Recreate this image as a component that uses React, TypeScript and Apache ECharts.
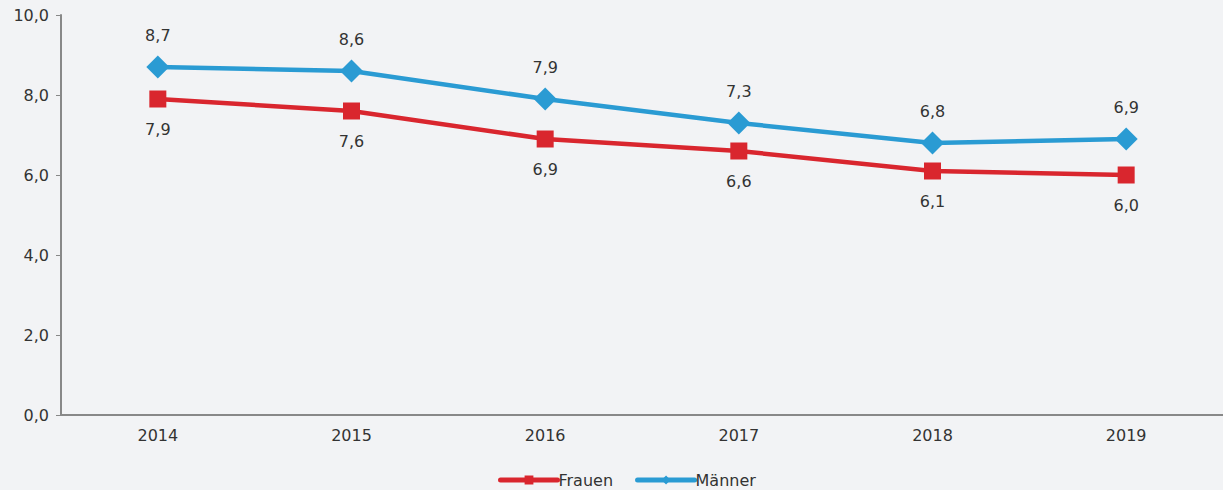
import React, { useEffect, useRef } from "react";
import * as echarts from "echarts";

const years = ["2014", "2015", "2016", "2017", "2018", "2019"];
const frauen = [7.9, 7.6, 6.9, 6.6, 6.1, 6.0];
const maenner = [8.7, 8.6, 7.9, 7.3, 6.8, 6.9];

const fmt = (v: number) => v.toFixed(1).replace(".", ",");

export default function App() {
  const ref = useRef<HTMLDivElement>(null);
  useEffect(() => {
    const chart = echarts.init(ref.current!, null, { renderer: "svg" });
    const font = "DejaVu Sans, Verdana, sans-serif";
    chart.setOption({
      animation: false,
      backgroundColor: "#f2f3f5",
      textStyle: { fontFamily: font },
      grid: { left: 61, top: 15, bottom: 75, width: 1164 },
      legend: {
        bottom: -3,
        left: 493,
        itemWidth: 57,
        itemHeight: 11,
        itemGap: 22,
        lineStyle: { width: 5, cap: "round" },
        textStyle: { fontFamily: font, fontSize: 16, color: "#333", padding: [0, 0, 0, -4] },
        data: ["Frauen", "Männer"],
      },
      xAxis: {
        type: "category",
        data: years,
        boundaryGap: true,
        axisLine: { lineStyle: { color: "#888", width: 2 } },
        axisTick: { alignWithLabel: true, length: 5, lineStyle: { color: "#888" } },
        axisLabel: { color: "#333", fontSize: 16, margin: 12, fontFamily: font },
      },
      yAxis: {
        type: "value",
        min: 0,
        max: 10,
        interval: 2,
        splitLine: { show: false },
        axisLine: { show: true, lineStyle: { color: "#888", width: 2 } },
        axisTick: { show: true, length: 5, lineStyle: { color: "#888" } },
        axisLabel: {
          color: "#333",
          fontSize: 16,
          margin: 12,
          fontFamily: font,
          formatter: (v: number) => fmt(v),
        },
      },
      series: [
        {
          name: "Frauen",
          type: "line",
          data: frauen,
          color: "#d9262e",
          lineStyle: { width: 4.5, color: "#d9262e" },
          symbol: "rect",
          symbolSize: 17,
          itemStyle: { color: "#d9262e" },
          label: {
            show: true,
            position: "bottom",
            distance: 14,
            fontSize: 16,
            color: "#333",
            fontFamily: font,
            formatter: (p: any) => fmt(p.value),
          },
        },
        {
          name: "Männer",
          type: "line",
          data: maenner,
          color: "#2a9bd3",
          lineStyle: { width: 4.5, color: "#2a9bd3" },
          symbol: "diamond",
          symbolSize: 23,
          itemStyle: { color: "#2a9bd3" },
          label: {
            show: true,
            position: "top",
            distance: 12,
            fontSize: 16,
            color: "#333",
            fontFamily: font,
            formatter: (p: any) => fmt(p.value),
          },
        },
      ],
    });
    return () => chart.dispose();
  }, []);
  return (
    <div
      ref={ref}
      style={{ position: "fixed", left: 0, top: 0, width: 1223, height: 490 }}
    />
  );
}
